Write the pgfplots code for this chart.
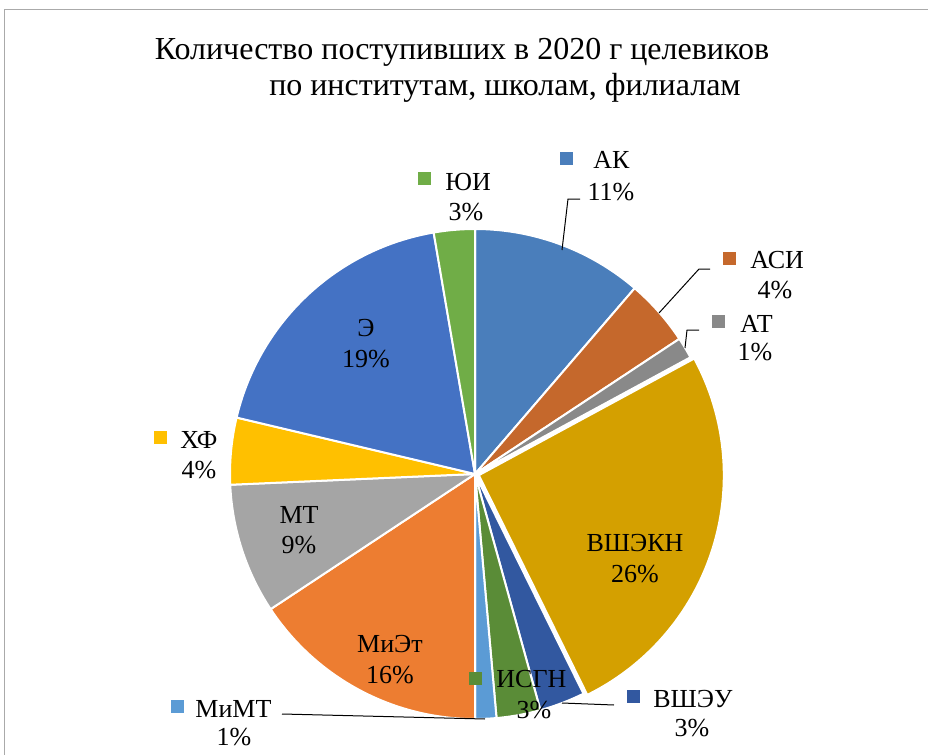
\documentclass[border=0pt]{standalone}
\usepackage{pgfplots}
\pgfplotsset{compat=1.18}
\usepackage{fontspec}
\setmainfont{Liberation Serif}

\definecolor{cAK}{RGB}{74,126,187}
\definecolor{cASI}{RGB}{197,104,44}
\definecolor{cAT}{RGB}{137,137,137}
\definecolor{cVSHEKN}{RGB}{212,160,0}
\definecolor{cVSHEU}{RGB}{50,88,160}
\definecolor{cISGN}{RGB}{90,140,55}
\definecolor{cMiMT}{RGB}{91,155,213}
\definecolor{cMiEt}{RGB}{237,125,49}
\definecolor{cMT}{RGB}{165,165,165}
\definecolor{cHF}{RGB}{255,192,0}
\definecolor{cE}{RGB}{68,114,196}
\definecolor{cUI}{RGB}{112,173,71}
\definecolor{frame}{RGB}{170,170,170}

% share (%) / colour / explode (px), clockwise from 12 o'clock
\def\shares{11.3/cAK/0, 4.4/cASI/0, 1.4/cAT/0, 25.6/cVSHEKN/4, 3.0/cVSHEU/0,
  2.9/cISGN/0, 1.4/cMiMT/0, 15.7/cMiEt/0, 8.6/cMT/0, 4.4/cHF/0, 18.6/cE/0, 2.7/cUI/0}

% swatch colour, swatch x, swatch top, name x, name baseline, name, pct x, pct baseline, pct
\newcommand\lbl[9]{%
  \node[fill=#1, minimum size=6.5pt, inner sep=0pt, anchor=north west] at (axis cs:#2,#3) {};
  \node[anchor=base west, inner sep=0pt] at (axis cs:#4,#5) {#6};
  \node[anchor=base, inner sep=0pt] at (axis cs:#7,#8) {#9};}

\begin{document}
\begin{tikzpicture}
\begin{axis}[scale only axis, width=464pt, height=377.5pt,
  xmin=0, xmax=928, ymin=0, ymax=755, y dir=reverse, hide axis,
  font=\fontsize{13}{15}\selectfont]
\path (axis cs:0,0) rectangle (axis cs:928,755);
\addplot[frame, line width=0.7pt] coordinates {(4.5,755) (4.5,9.5) (928,9.5)};

\xdef\a{90}
\foreach \v/\c/\e in \shares {
  \pgfmathsetmacro\b{\a-3.6*\v}
  \pgfmathsetmacro\m{(\a+\b)/2}
  \pgfmathsetmacro\cx{475+\e*cos(\m)}
  \pgfmathsetmacro\cy{474-\e*sin(\m)}
  \edef\temp{\noexpand\addplot[fill=\c, draw=white, line width=1pt, line join=round,
    domain=\b:\a, samples=80] ({\cx+245*cos(x)},{\cy-245*sin(x)}) -- (axis cs:\cx,\cy) -- cycle;}
  \temp
  \xdef\a{\b}
}

% leader lines
\addplot[black, line width=0.5pt] coordinates {(562,250) (568,199) (580,199)};
\addplot[black, line width=0.5pt] coordinates {(659,313) (699,269) (710,269)};
\addplot[black, line width=0.5pt] coordinates {(685,348) (687,330) (699,330)};
\addplot[black, line width=0.5pt] coordinates {(562,703) (614,705)};
\addplot[black, line width=0.5pt] coordinates {(282,714) (485,719)};

% title
\node[anchor=base, font=\fontsize{16}{19}\selectfont] at (axis cs:462,60) {Количество поступивших в 2020 г целевиков};
\node[anchor=base, font=\fontsize{16}{19}\selectfont] at (axis cs:505,96) {по институтам, школам, филиалам};

% outside labels
\lbl{cUI}{418}{172}{445}{190}{ЮИ}{466}{220}{3\%}
\lbl{cAK}{560}{152}{593}{168}{АК}{611}{200}{11\%}
\lbl{cASI}{723}{252}{750}{268}{АСИ}{775}{298}{4\%}
\lbl{cAT}{712}{315}{740}{332}{АТ}{755}{360}{1\%}
\lbl{cVSHEU}{627}{690}{653}{707}{ВШЭУ}{692}{736}{3\%}
\lbl{cISGN}{469}{672}{496}{687}{ИСГН}{534}{718}{3\%}
\lbl{cMiMT}{171}{700}{195}{717}{МиМТ}{234}{745}{1\%}
\lbl{cHF}{154}{431}{180}{448}{ХФ}{199}{478}{4\%}

% inside labels
\node[anchor=base] at (axis cs:366,336) {Э};
\node[anchor=base] at (axis cs:366,367) {19\%};
\node[anchor=base] at (axis cs:299,523) {МТ};
\node[anchor=base] at (axis cs:299,553) {9\%};
\node[anchor=base] at (axis cs:635,551) {ВШЭКН};
\node[anchor=base] at (axis cs:635,582) {26\%};
\node[anchor=base] at (axis cs:390,652) {МиЭт};
\node[anchor=base] at (axis cs:390,683) {16\%};
\end{axis}
\end{tikzpicture}
\end{document}
